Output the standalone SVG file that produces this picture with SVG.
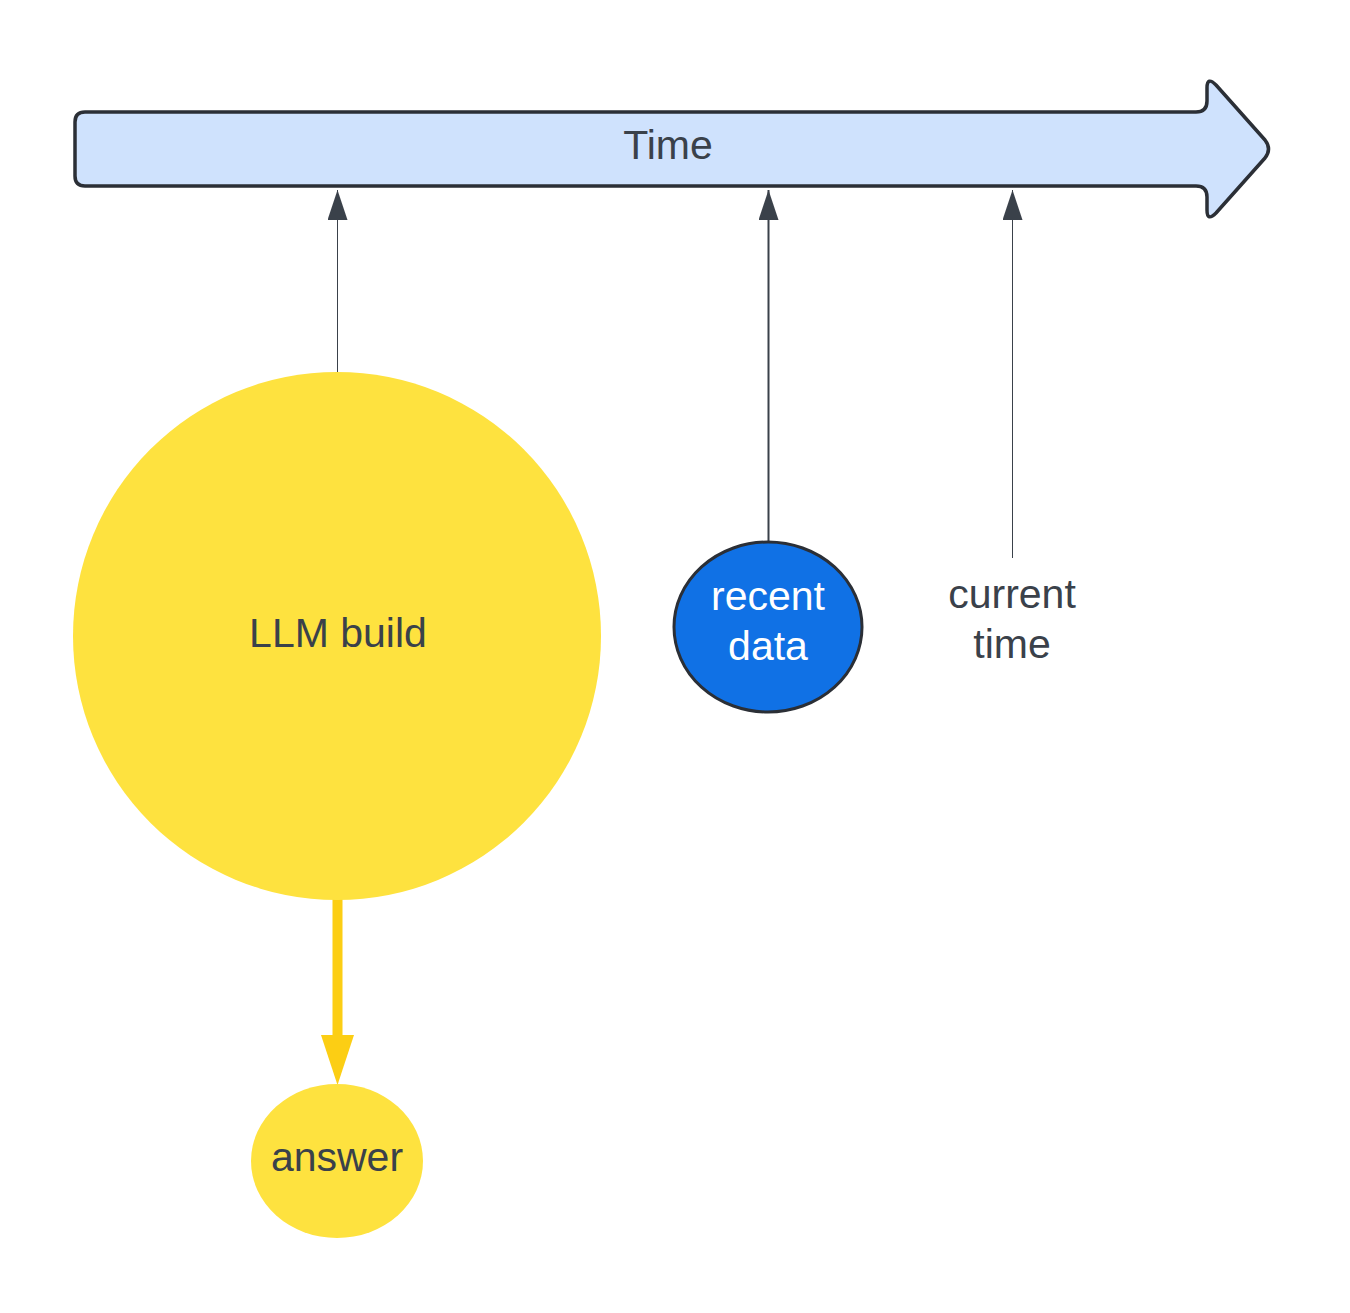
<svg xmlns="http://www.w3.org/2000/svg" width="1350" height="1313" viewBox="0 0 1350 1313">
<defs>
<style>
.lbl{font-family:"Liberation Sans",Arial,sans-serif;font-size:41px;fill:#3a414a;text-anchor:middle}
.wht{fill:#ffffff}
.conn{stroke:#3a414a;fill:none}
</style>
<marker id="ah" markerUnits="userSpaceOnUse" markerWidth="30" markerHeight="20" refX="30" refY="10" orient="auto" viewBox="0 0 30 20">
<path d="M30 10 L0 0 L0 20 Z" fill="#3a414a"/>
</marker>
</defs>
<rect width="1350" height="1313" fill="#ffffff"/>
<g id="time">
<path d="M85 112 L1196 112 Q1207 112 1207 101 L1207 88 Q1207 76 1216 85 L1265 140 Q1272 149 1265 158 L1216 213 Q1207 222 1207 210 L1207 197 Q1207 186 1196 186 L85 186 Q75 186 75 176 L75 122 Q75 112 85 112 Z" fill="#cfe2fd" stroke="#2b2f36" stroke-width="3.5" stroke-linejoin="round"/>
<text class="lbl" x="668" y="159">Time</text>
</g>
<g id="connectors">
<line class="conn" x1="337.5" y1="373" x2="337.5" y2="190" stroke-width="1" marker-end="url(#ah)"/>
<line class="conn" x1="768.5" y1="542" x2="768.5" y2="190" stroke-width="2" marker-end="url(#ah)"/>
<line class="conn" x1="1012.5" y1="558" x2="1012.5" y2="190" stroke-width="1" marker-end="url(#ah)"/>
<line x1="337.5" y1="898" x2="337.5" y2="1036" stroke="#fcce14" stroke-width="10"/>
<path d="M321 1035 L354 1035 L337.5 1085 Z" fill="#fcce14"/>
</g>
<g id="llm">
<circle cx="337" cy="636" r="264" fill="#fee23f"/>
<text class="lbl" x="338" y="647">LLM build</text>
</g>
<g id="recent">
<ellipse cx="768" cy="627" rx="94" ry="85" fill="#1071e5" stroke="#2b2f36" stroke-width="3"/>
<text class="lbl wht" x="768" y="610">recent</text>
<text class="lbl wht" x="768" y="660">data</text>
</g>
<g id="current">
<text class="lbl" x="1012" y="608">current</text>
<text class="lbl" x="1012" y="658">time</text>
</g>
<g id="answer">
<ellipse cx="337" cy="1161" rx="86" ry="77" fill="#fee23f"/>
<text class="lbl" x="337" y="1171">answer</text>
</g>
</svg>
